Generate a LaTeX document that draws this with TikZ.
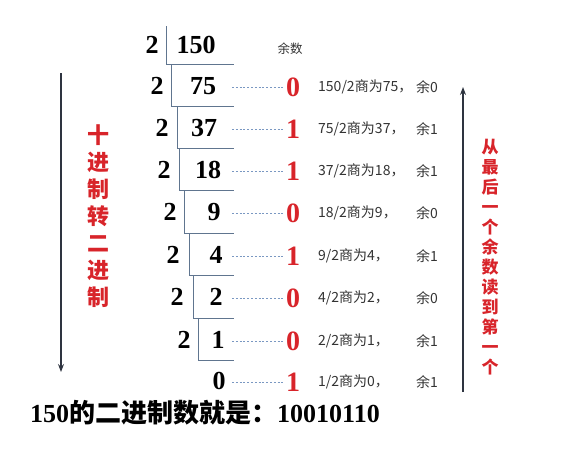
\documentclass[tikz,border=0pt]{standalone}
\usepackage{fontspec}
\setmainfont{Liberation Serif}
\newfontfamily\cjk{Noto Sans CJK SC}
\usetikzlibrary{arrows.meta}
\definecolor{remred}{HTML}{D8242A}
\definecolor{rulegrey}{HTML}{60758F}
\definecolor{leadblue}{HTML}{7A98C2}
\definecolor{arrowdark}{HTML}{2E3440}

\begin{document}
\begin{tikzpicture}[x=1pt,y=-1pt,
    num/.style={font=\fontsize{26}{26}\selectfont\bfseries, inner sep=1pt},
    bit/.style={font=\fontsize{28}{28}\selectfont\bfseries, text=remred, inner sep=1pt},
    note/.style={font=\cjk\fontsize{14}{14}\selectfont, text=black!80, anchor=west, inner sep=0pt},
    lead/.style={draw=leadblue, dash pattern=on 2pt off 1.8pt, line width=0.6pt},
    rule/.style={draw=rulegrey, line width=0.8pt}]
    \useasboundingbox (0,0) rectangle (566,456);

    % first line of the division
    \node[num] (d1) at (152,45) {2};
    \node[num] (n1) at (196,45) {150};
    \node[font=\cjk\fontsize{12.5}{12.5}\selectfont, text=black!80] (head) at (290,49) {余数};
    \draw[rule] (166,26) -- (166,64) -- (234,64);

    % divisor x / number x / number / y / bracket x / bracket top / bracket bottom / index
    \foreach \dx/\nx/\n/\y/\bx/\bt/\bb/\i in {
        157/203/75/86/171/64/106/2, 162/204/37/128/177/106/148/3,
        164/208/18/170/179/148/190/4, 170/214/9/212/184/190/233/5,
        173/216/4/255/189/233/275/6, 177/216/2/297/193/275/318/7,
        184/218/1/340/198/318/360/8} {
      \node[num] (d\i) at (\dx,\y) {2};
      \node[num] (n\i) at (\nx,\y) {\n};
      \draw[rule] (\bx,\bt) -- (\bx,\bb) -- (234,\bb);
    }
    \node[num] (n9) at (219,381) {0};

    % remainders, leaders and notes
    \foreach \r/\y/\txt/\rest/\i in {
        0/86/150\slash2商为75，/余0/2, 1/128/75\slash2商为37，/余1/3,
        1/170/37\slash2商为18，/余1/4, 0/212/18\slash2商为9，/余0/5,
        1/255/9\slash2商为4，/余1/6, 0/297/4\slash2商为2，/余0/7,
        0/340/2\slash2商为1，/余1/8, 1/381/1\slash2商为0，/余1/9} {
      \node[bit] (b\i) at (293,\y+1) {\r};
      \coordinate (s\i) at (232,\y+1);
      \draw[lead] (s\i) -- (b\i.west);
      \node[note] (q\i) at (318,\y+1) {\txt};
      \node[note] (m\i) at (416,\y+1) {\rest};
    }

    % direction arrows with their captions
    \coordinate (ltop) at (61,73);
    \coordinate (lbot) at (61,372);
    \draw[arrowdark, line width=1.1pt, -{Stealth[length=8pt,width=6pt]}] (ltop) -- (lbot);
    \node[font=\cjk\bfseries\fontsize{22}{27}\selectfont, text=remred, align=center,
      inner sep=0pt] (down) at (98,216) {十\\进\\制\\转\\二\\进\\制};

    \coordinate (rbot) at (463,392);
    \coordinate (rtop) at (463,87);
    \draw[arrowdark, line width=1.1pt, -{Stealth[length=8pt,width=6pt]}] (rbot) -- (rtop);
    \node[font=\cjk\bfseries\fontsize{17}{20}\selectfont, text=remred, align=center,
      inner sep=0pt] (up) at (490,257) {从\\最\\后\\一\\个\\余\\数\\读\\到\\第\\一\\个};

    \node[font=\fontsize{26}{26}\selectfont\bfseries, anchor=west, inner sep=0pt] (result)
      at (30,413) {150{\cjk 的二进制数就是：}10010110};
  \end{tikzpicture}
\end{document}
